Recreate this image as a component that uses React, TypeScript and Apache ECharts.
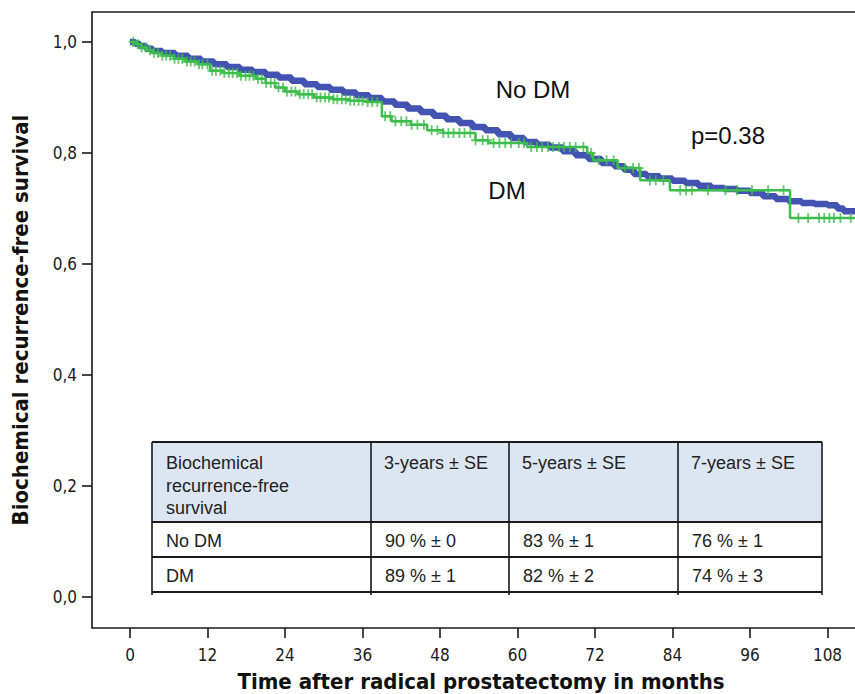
import React, { useEffect, useRef } from "react";
import * as echarts from "echarts";

// Kaplan-Meier step points: [months, survival]
const NO_DM: [number, number][] = [
  [0, 1.0], [0.8, 0.997], [1.5, 0.993], [2.5, 0.988], [3.5, 0.984], [5, 0.98], [7, 0.975], [9, 0.97],
  [11, 0.965], [13, 0.96], [15, 0.955], [17, 0.95], [19, 0.946], [21, 0.941], [23, 0.936], [25, 0.93],
  [27, 0.924], [29, 0.919], [31, 0.914], [33, 0.909], [35, 0.904], [37, 0.899], [39, 0.893], [41, 0.887],
  [43, 0.88], [45, 0.874], [47, 0.867], [49, 0.861], [51, 0.854], [53, 0.847], [55, 0.841], [57, 0.834],
  [59, 0.827], [61, 0.82], [63, 0.815], [65, 0.81], [67, 0.803], [69, 0.796], [71, 0.789], [73, 0.782],
  [75, 0.776], [76.5, 0.77], [78, 0.762], [80, 0.758], [82, 0.754], [84, 0.75], [86, 0.746], [88, 0.741],
  [90, 0.737], [92, 0.735], [94, 0.732], [96, 0.728], [98, 0.722], [100, 0.717], [102, 0.713], [104, 0.71],
  [106, 0.708], [108, 0.706], [109.5, 0.7], [110.5, 0.695], [115, 0.695],
];

const DM: [number, number][] = [
  [0, 1.0], [1.0, 0.996], [1.8, 0.99], [2.6, 0.985], [3.6, 0.98], [5.0, 0.975], [6.8, 0.97], [8.5, 0.965],
  [10.5, 0.96], [12.4, 0.948], [14.5, 0.944], [17.0, 0.939], [19.5, 0.934], [21.0, 0.926], [22.5, 0.918],
  [24.0, 0.911], [26.0, 0.906], [28.5, 0.9], [31.5, 0.897], [34.0, 0.894], [36.5, 0.892], [39.0, 0.866],
  [40.5, 0.857], [43.5, 0.851], [46.0, 0.841], [48.5, 0.836], [53.5, 0.823], [55.5, 0.818], [61.5, 0.811],
  [70.8, 0.8], [71.7, 0.787], [75.5, 0.773], [79.0, 0.751], [83.6, 0.733], [102.2, 0.683], [115, 0.683],
];

// censored observations (months) in the DM group
const DM_CENSORED: number[] = [
  0.5, 1.2, 1.8, 2.4, 3.1, 3.7, 4.3, 5.0, 5.6, 6.2, 6.9, 7.5, 8.1, 8.8, 9.4, 10.0, 10.7, 11.2, 12.0, 12.7,
  13.3, 14.0, 14.6, 15.3, 15.9, 16.6, 17.2, 17.9, 18.5, 19.1, 19.8, 20.4, 21.1, 21.8, 22.4, 23.0, 23.7,
  24.3, 25.0, 25.6, 26.3, 26.9, 27.6, 28.2, 28.9, 29.5, 30.2, 30.8, 31.5, 32.1, 32.8, 33.4, 34.1, 34.7,
  35.4, 36.0, 36.8, 37.5, 38.3, 39.5, 40.3, 41.1, 42.0, 42.8, 43.6, 44.5, 45.5, 46.7, 47.6, 48.5, 49.3,
  50.1, 51.0, 51.8, 52.7, 53.5, 54.6, 55.4, 56.3, 57.2, 58.1, 59.0, 60.2, 61.0, 62.1, 63.0, 63.8, 64.7,
  65.5, 66.4, 67.2, 68.1, 69.0, 70.2, 71.4, 72.6, 73.8, 74.9, 76.6, 77.9, 78.8, 80.5, 81.4, 82.6, 85.2,
  86.1, 87.0, 89.5, 92.2, 94.0, 96.3, 98.8, 101.2, 103.5, 105.0, 106.7, 107.5, 108.3, 109.0, 110.0, 111.6,
];

const X_TICKS = [0, 12, 24, 36, 48, 60, 72, 84, 96, 108];
const Y_TICKS = [0, 0.2, 0.4, 0.6, 0.8, 1.0];

const TABLE_HEADER_FIRST = ["Biochemical", "recurrence-free", "survival"];
const TABLE_HEADER = ["3-years ± SE", "5-years ± SE", "7-years ± SE"];
const TABLE_ROWS: string[][] = [
  ["No DM", "90 % ± 0", "83 % ± 1", "76 % ± 1"],
  ["DM", "89 % ± 1", "82 % ± 2", "74 % ± 3"],
];

const BLUE = "#4253b2";
const GREEN = "#3dbd4b";

function stepAt(arr: [number, number][], t: number): number {
  let v = arr[0][1];
  for (const [x, y] of arr) {
    if (x <= t) v = y;
    else break;
  }
  return v;
}

const PLUS = "path://M4,0 L6,0 L6,4 L10,4 L10,6 L6,6 L6,10 L4,10 L4,6 L0,6 L0,4 L4,4 Z";

function buildTable(): any[] {
  const els: any[] = [];
  const colX = [152, 371, 509, 678, 822];
  const rowY = [442, 522, 557, 592];
  const font = "18px 'Liberation Sans', Arial, sans-serif";
  const lineColor = "#1a1a1a";
  els.push({
    type: "rect",
    shape: { x: colX[0], y: rowY[0], width: colX[4] - colX[0], height: rowY[1] - rowY[0] },
    style: { fill: "#dce6f2" },
    z: 10,
  });
  rowY.forEach((y) => {
    els.push({
      type: "line",
      shape: { x1: colX[0], y1: y, x2: colX[4], y2: y },
      style: { stroke: lineColor, lineWidth: 2 },
      z: 11,
    });
  });
  colX.forEach((x) => {
    els.push({
      type: "line",
      shape: { x1: x, y1: rowY[0], x2: x, y2: rowY[3] + 3 },
      style: { stroke: lineColor, lineWidth: 1.6 },
      z: 11,
    });
  });
  const addText = (text: string, x: number, y: number) =>
    els.push({
      type: "text",
      x,
      y,
      style: {
        text,
        font,
        fill: "#222",
        align: "left",
        verticalAlign: "middle",
        textAlign: "left",
        textVerticalAlign: "middle",
      },
      z: 12,
    });
  TABLE_HEADER_FIRST.forEach((t, i) => addText(t, colX[0] + 14, 463 + i * 22.5));
  TABLE_HEADER.forEach((t, i) => addText(t, colX[i + 1] + 13, 463));
  TABLE_ROWS.forEach((row, r) => {
    const cy = (rowY[r + 1] + rowY[r + 2]) / 2 + 1;
    row.forEach((t, c) => addText(t, colX[c] + 14, cy));
  });
  return els;
}

function annotation(text: string, x: number, y: number) {
  return {
    type: "text",
    x,
    y,
    style: {
      text,
      font: "24px 'Liberation Sans', Arial, sans-serif",
      fill: "#111",
      align: "center",
      verticalAlign: "middle",
      textAlign: "center",
      textVerticalAlign: "middle",
    },
    z: 12,
  };
}

export default function App() {
  const ref = useRef<HTMLDivElement>(null);
  useEffect(() => {
    if (!ref.current) return;
    const chart = echarts.init(ref.current, null, { renderer: "svg" });
    const axisFont = "'DejaVu Sans Condensed', 'DejaVu Sans', sans-serif";
    const option: any = {
      animation: false,
      backgroundColor: "#fff",
      grid: {
        left: 92,
        top: 12,
        width: 778,
        height: 616,
        outerBoundsMode: "none",
        containLabel: false,
        show: true,
        borderColor: "#1a1a1a",
        borderWidth: 1.6,
        backgroundColor: "transparent",
      },
      xAxis: {
        type: "value",
        min: -5.884,
        max: 114.58,
        axisLine: { show: false, onZero: false },
        splitLine: { show: false },
        axisTick: {
          show: true,
          inside: false,
          customValues: X_TICKS,
          length: 10,
          lineStyle: { color: "#1a1a1a", width: 1.6 },
        },
        axisLabel: {
          customValues: X_TICKS,
          fontFamily: axisFont,
          fontSize: 17,
          color: "#1a1a1a",
          margin: 18,
        },
        name: "Time after radical prostatectomy in months",
        nameLocation: "middle",
        nameGap: 42,
        nameTextStyle: { fontFamily: axisFont, fontWeight: "bold", fontSize: 22, color: "#111" },
      },
      yAxis: {
        type: "value",
        min: -0.05586,
        max: 1.05405,
        axisLine: { show: false, onZero: false },
        splitLine: { show: false },
        axisTick: {
          show: true,
          inside: false,
          customValues: Y_TICKS,
          length: 10,
          lineStyle: { color: "#1a1a1a", width: 1.6 },
        },
        axisLabel: {
          customValues: Y_TICKS,
          formatter: (v: number) => v.toFixed(1).replace(".", ","),
          fontFamily: axisFont,
          fontSize: 17,
          color: "#1a1a1a",
          margin: 15,
        },
        name: "Biochemical recurrence-free survival",
        nameLocation: "middle",
        nameGap: 61,
        nameTextStyle: { fontFamily: axisFont, fontWeight: "bold", fontSize: 22, color: "#111" },
      },
      series: [
        {
          name: "No DM",
          type: "line",
          step: "end",
          data: NO_DM,
          showSymbol: false,
          lineStyle: { color: BLUE, width: 6.5 },
          z: 2,
        },
        {
          name: "DM",
          type: "line",
          step: "end",
          data: DM,
          showSymbol: false,
          lineStyle: { color: GREEN, width: 2.5 },
          z: 3,
        },
        {
          name: "DM censored",
          type: "scatter",
          data: DM_CENSORED.map((t) => [t, stepAt(DM, t)]),
          symbol: PLUS,
          symbolSize: [9, 10],
          itemStyle: { color: GREEN },
          z: 4,
        },
      ],
      graphic: [
        annotation("No DM", 533, 89),
        annotation("p=0.38", 728, 135),
        annotation("DM", 507, 190),
        ...buildTable(),
      ],
    };
    chart.setOption(option);
    return () => chart.dispose();
  }, []);
  return (
    <div
      style={{
        position: "fixed",
        left: 0,
        top: 0,
        width: 855,
        height: 694,
        overflow: "hidden",
        background: "#fff",
      }}
    >
      <div ref={ref} style={{ width: 880, height: 694 }} />
    </div>
  );
}
